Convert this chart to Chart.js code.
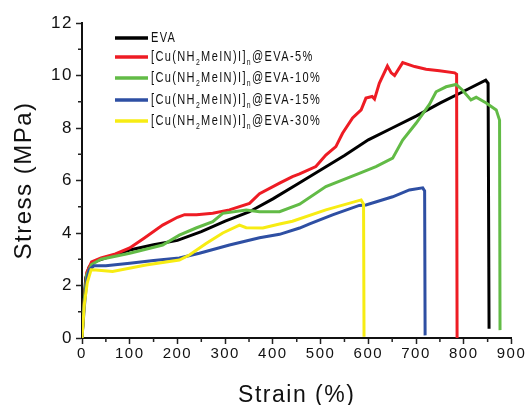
<!DOCTYPE html>
<html>
<head>
<meta charset="utf-8">
<script src="https://cdn.jsdelivr.net/npm/chart.js@4"></script>
<style>
  html, body { margin: 0; padding: 0; background: #fff; }
  #chart { display: block; }
</style>
</head>
<body>
<canvas id="chart" width="525" height="405"></canvas>
<script>
// tensile curves (strain %, stress MPa)
const evaStrain = [0, 4, 8, 15, 25, 50, 100, 150, 200, 250, 300, 350, 400, 450, 500, 550, 600, 650, 700, 750, 800, 846, 851, 853];
const evaStress = [0, 1.4, 2.3, 2.7, 2.9, 3.05, 3.35, 3.55, 3.72, 4.05, 4.45, 4.8, 5.3, 5.85, 6.4, 6.95, 7.55, 8.0, 8.45, 8.95, 9.4, 9.82, 9.7, 0.35];

const cu5Strain = [0, 5, 10, 20, 40, 70, 100, 130, 169, 200, 215, 240, 274, 309, 351, 372, 414, 441, 456, 490, 511, 532, 546, 567, 585, 595, 608, 613, 623, 640, 648, 655, 672, 697, 721, 749, 781, 785, 786];
const cu5Stress = [0, 1.5, 2.5, 2.9, 3.05, 3.2, 3.43, 3.8, 4.3, 4.6, 4.7, 4.7, 4.75, 4.88, 5.13, 5.5, 5.9, 6.15, 6.25, 6.53, 6.97, 7.29, 7.8, 8.38, 8.69, 9.14, 9.2, 9.1, 9.7, 10.36, 10.1, 10.0, 10.49, 10.34, 10.24, 10.18, 10.1, 10.05, 0];

const cu10Strain = [0, 5, 10, 20, 40, 100, 169, 204, 239, 274, 295, 344, 372, 414, 456, 511, 581, 616, 651, 672, 700, 728, 742, 763, 784, 797, 815, 826, 847, 868, 875, 876];
const cu10Stress = [0, 1.5, 2.4, 2.8, 3.0, 3.23, 3.54, 3.92, 4.19, 4.43, 4.75, 4.88, 4.81, 4.81, 5.1, 5.77, 6.27, 6.53, 6.85, 7.54, 8.18, 8.9, 9.38, 9.57, 9.66, 9.45, 9.07, 9.17, 8.95, 8.69, 8.3, 0.3];

const cu15Strain = [0, 5, 10, 15, 25, 50, 100, 150, 204, 246, 309, 372, 414, 456, 477, 525, 581, 595, 651, 686, 714, 718, 719];
const cu15Stress = [0, 1.2, 2.2, 2.6, 2.75, 2.75, 2.85, 2.95, 3.05, 3.23, 3.54, 3.82, 3.95, 4.19, 4.35, 4.69, 5.05, 5.07, 5.38, 5.64, 5.72, 5.6, 0.1];

const cu30Strain = [0, 5, 11, 19, 29, 64, 134, 204, 225, 260, 295, 330, 344, 379, 414, 441, 511, 585, 590, 591];
const cu30Stress = [0, 1.3, 2.1, 2.6, 2.59, 2.53, 2.78, 2.97, 3.16, 3.6, 4.0, 4.3, 4.2, 4.19, 4.34, 4.45, 4.88, 5.26, 5.1, 0.05];

const seriesNames = ['EVA', '5%', '10%', '15%', '30%'];
const seriesColors = ['#000000', '#ee1c24', '#62bb46', '#2e4fa3', '#f7ec13'];
const strainTicks = [0, 100, 200, 300, 400, 500, 600, 700, 800, 900];
const stressTicks = [0, 2, 4, 6, 8, 10, 12];

function toPoints(xs, ys) {
    return xs.map((x, i) => ({ x: x, y: ys[i] }));
}

const allStrain = [evaStrain, cu5Strain, cu10Strain, cu15Strain, cu30Strain];
const allStress = [evaStress, cu5Stress, cu10Stress, cu15Stress, cu30Stress];

const datasets = allStrain.map((xs, i) => ({
    label: seriesNames[i],
    data: toPoints(xs, allStress[i]),
    borderColor: seriesColors[i],
    backgroundColor: seriesColors[i],
    borderWidth: 3,
    pointRadius: 0,
    showLine: true,
    tension: 0,
    order: 5 - i
}));

const FONT = "'Liberation Sans', Arial, sans-serif";

// legend with subscripts, drawn on the canvas (squeezed a bit, the original font is narrow)
const legendPlugin = {
    id: 'subLegend',
    afterDraw(chart) {
        const ctx = chart.ctx;
        const rows = [38, 57, 78, 100, 121];
        rows.forEach((y, i) => {
            ctx.save();
            ctx.strokeStyle = seriesColors[i];
            ctx.lineWidth = 3.5;
            ctx.beginPath();
            ctx.moveTo(115, y);
            ctx.lineTo(148, y);
            ctx.stroke();

            ctx.translate(151, 0);
            ctx.scale(0.76, 1);
            ctx.letterSpacing = '1.8px';
            ctx.textBaseline = 'middle';
            ctx.fillStyle = '#111';
            let x = 0;
            const parts = i === 0 ? [['EVA', 0]] :
                [['[Cu(NH', 0], ['2', 1], ['MeIN)I]', 0], ['n', 1], ['@EVA-' + seriesNames[i], 0]];
            parts.forEach(p => {
                ctx.font = (p[1] ? '9px ' : '14.5px ') + FONT;
                ctx.fillText(p[0], x, p[1] ? y + 6 : y);
                x += ctx.measureText(p[0]).width;
            });
            ctx.restore();
        });
    }
};

// shorter minor ticks between the labelled ones
const minorTicks = {
    id: 'minorTicks',
    afterDraw(chart) {
        const ctx = chart.ctx;
        const xs = chart.scales.x, ys = chart.scales.y;
        const area = chart.chartArea;
        ctx.save();
        ctx.strokeStyle = '#222';
        ctx.lineWidth = 1.5;
        ctx.beginPath();
        for (let v = 50; v < 900; v += 100) {
            const px = xs.getPixelForValue(v);
            ctx.moveTo(px, area.bottom);
            ctx.lineTo(px, area.bottom + 4);
        }
        for (let v = 1; v < 12; v += 2) {
            const py = ys.getPixelForValue(v);
            ctx.moveTo(area.left, py);
            ctx.lineTo(area.left - 4, py);
        }
        ctx.stroke();
        ctx.restore();
    }
};

const spacing = {
    id: 'spacing',
    beforeDraw(chart) {
        chart.ctx.letterSpacing = '1.5px';
    }
};

new Chart(document.getElementById('chart'), {
    type: 'scatter',
    data: { datasets: datasets },
    options: {
        responsive: false,
        animation: false,
        devicePixelRatio: 1,
        layout: { padding: { top: 23, right: 13, left: 0, bottom: 0 } },
        plugins: {
            legend: { display: false },
            tooltip: { enabled: false }
        },
        scales: {
            x: {
                type: 'linear',
                min: 0,
                max: 900,
                afterBuildTicks: s => { s.ticks = strainTicks.map(v => ({ value: v })); },
                afterFit: s => { s.height = 67; },
                ticks: {
                    color: '#111',
                    font: { family: FONT, size: 15 },
                    maxRotation: 0,
                    autoSkip: false,
                    padding: 1
                },
                grid: { drawOnChartArea: false, tickLength: 6, color: '#222', tickWidth: 1.5 },
                border: { display: true, color: '#111', width: 2 },
                title: {
                    display: true,
                    text: 'Strain (%)',
                    color: '#111',
                    font: { family: FONT, size: 23 },
                    padding: { top: 0, bottom: -4 }
                }
            },
            y: {
                min: 0,
                max: 12,
                afterBuildTicks: s => { s.ticks = stressTicks.map(v => ({ value: v })); },
                afterFit: s => { s.width = 82; },
                ticks: {
                    color: '#111',
                    font: { family: FONT, size: 17 },
                    padding: 3
                },
                grid: { drawOnChartArea: false, tickLength: 6, color: '#222', tickWidth: 1.5 },
                border: { display: true, color: '#111', width: 2 },
                title: {
                    display: true,
                    text: 'Stress (MPa)',
                    color: '#111',
                    font: { family: FONT, size: 24 },
                    padding: { top: 10, bottom: 0 }
                }
            }
        }
    },
    plugins: [spacing, minorTicks, legendPlugin]
});
</script>
</body>
</html>
